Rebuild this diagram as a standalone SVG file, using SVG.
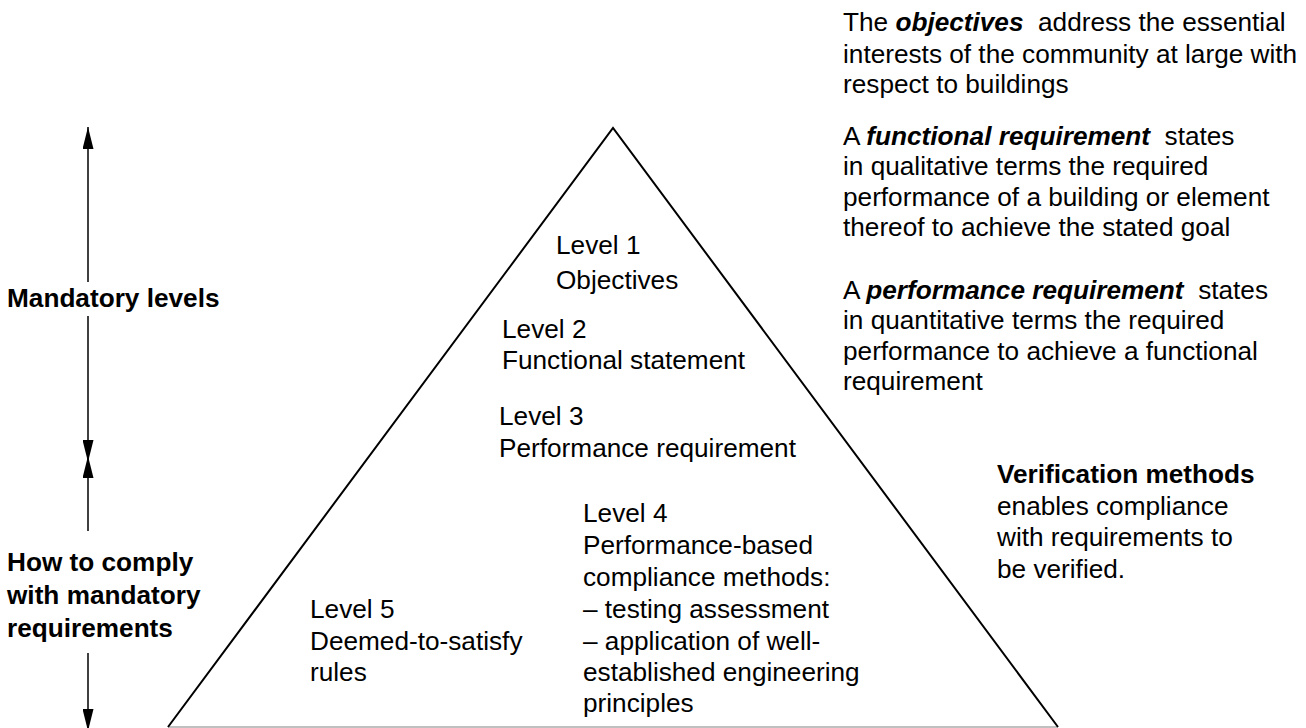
<svg xmlns="http://www.w3.org/2000/svg" width="1306" height="728" viewBox="0 0 1306 728">
  <style>
    text { font-family: "Liberation Sans", Arial, sans-serif; font-size: 26.2px; fill: #000; }
    .b { font-weight: bold; }
    .bi { font-weight: bold; font-style: italic; }
    .axis { stroke: #000; stroke-width: 1.5; fill: none; }
  </style>
  <defs>
    <marker id="head" viewBox="0 0 22 11" refX="22" refY="5.5" markerWidth="22" markerHeight="11" markerUnits="userSpaceOnUse" orient="auto">
      <path d="M0,0 L22,5.5 L0,11 Z" fill="#000"/>
    </marker>
  </defs>

  <rect width="1306" height="728" fill="#fff"/>

  <!-- pyramid -->
  <g id="pyramid">
    <line x1="168" y1="727" x2="1058" y2="727" stroke="#c0c0c0" stroke-width="2"/>
    <polyline points="168,727 613,128 1058,727" fill="none" stroke="#000" stroke-width="2"/>
  </g>

  <!-- left scale arrows -->
  <g id="connectors">
    <line class="axis" x1="88" y1="282" x2="88" y2="127" marker-end="url(#head)"/>
    <line class="axis" x1="88" y1="316" x2="88" y2="462" marker-end="url(#head)"/>
    <line class="axis" x1="88" y1="531" x2="88" y2="456" marker-end="url(#head)"/>
    <line class="axis" x1="88" y1="653" x2="88" y2="731" marker-end="url(#head)"/>
  </g>

  <g id="mandatory-label">
    <text class="b" x="7" y="307">Mandatory levels</text>
  </g>
  <g id="comply-label">
    <text class="b" x="7" y="571">How to comply</text>
    <text class="b" x="7" y="604">with mandatory</text>
    <text class="b" x="7" y="637">requirements</text>
  </g>

  <!-- levels inside the pyramid -->
  <g id="level1">
    <text x="556" y="254">Level 1</text>
    <text x="556" y="289">Objectives</text>
  </g>
  <g id="level2">
    <text x="502" y="338">Level 2</text>
    <text x="502" y="369">Functional statement</text>
  </g>
  <g id="level3">
    <text x="499" y="425">Level 3</text>
    <text x="499" y="457">Performance requirement</text>
  </g>
  <g id="level4">
    <text x="583" y="522">Level 4</text>
    <text x="583" y="554">Performance-based</text>
    <text x="583" y="586">compliance methods:</text>
    <text x="583" y="618">– testing assessment</text>
    <text x="583" y="650">– application of well-</text>
    <text x="583" y="681">established engineering</text>
    <text x="583" y="712">principles</text>
  </g>
  <g id="level5">
    <text x="310" y="618">Level 5</text>
    <text x="310" y="650">Deemed-to-satisfy</text>
    <text x="310" y="681">rules</text>
  </g>

  <!-- explanatory notes -->
  <g id="note-objectives">
    <text x="843" y="31" xml:space="preserve">The <tspan class="bi">objectives</tspan>  address the essential</text>
    <text x="843" y="63">interests of the community at large with</text>
    <text x="843" y="93">respect to buildings</text>
  </g>
  <g id="note-functional">
    <text x="843" y="145" xml:space="preserve">A <tspan class="bi">functional requirement</tspan>  states</text>
    <text x="843" y="175">in qualitative terms the required</text>
    <text x="843" y="206">performance of a building or element</text>
    <text x="843" y="236">thereof to achieve the stated goal</text>
  </g>
  <g id="note-performance">
    <text x="843" y="299" xml:space="preserve">A <tspan class="bi">performance requirement</tspan>  states</text>
    <text x="843" y="329">in quantitative terms the required</text>
    <text x="843" y="360">performance to achieve a functional</text>
    <text x="843" y="390">requirement</text>
  </g>
  <g id="note-verification">
    <text class="b" x="997" y="483">Verification methods</text>
    <text x="997" y="515">enables compliance</text>
    <text x="997" y="546">with requirements to</text>
    <text x="997" y="578">be verified.</text>
  </g>
</svg>
